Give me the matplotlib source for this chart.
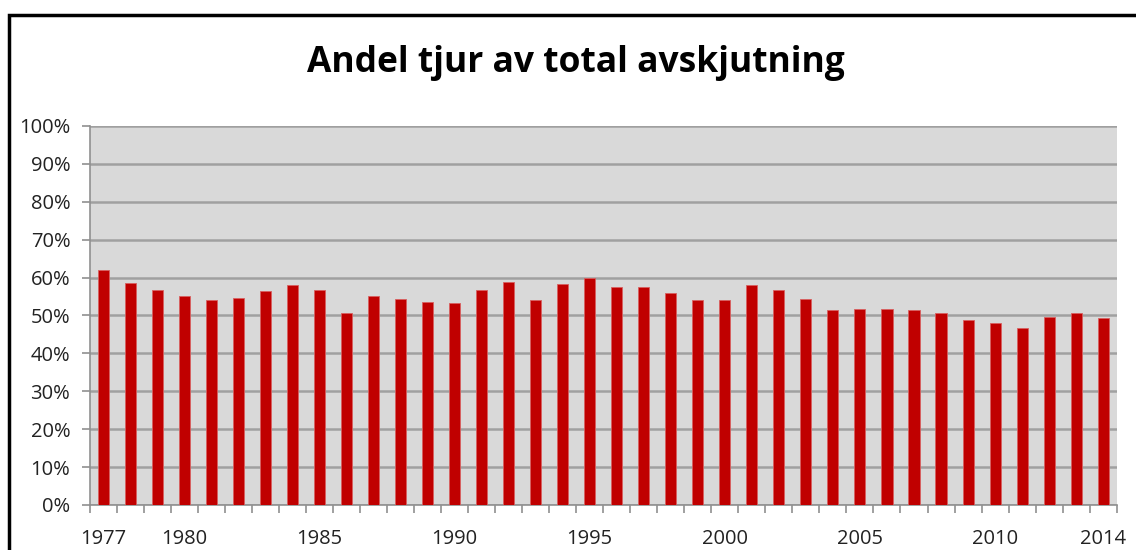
import numpy as np
import matplotlib.pyplot as plt
from matplotlib.patches import Rectangle
from matplotlib.ticker import FixedLocator, PercentFormatter

years = list(range(1977, 2015))
share = [61.9, 58.5, 56.8, 55.0, 54.1, 54.7, 56.5, 58.0, 56.8, 50.7,
         55.0, 54.4, 53.5, 53.2, 56.8, 58.9, 54.1, 58.3, 60.0, 57.4,
         57.4, 55.9, 54.1, 54.1, 58.0, 56.8, 54.3, 51.3, 51.7, 51.7,
         51.3, 50.7, 48.9, 48.0, 46.8, 49.5, 50.7, 49.2]
label_years = [1977, 1980, 1985, 1990, 1995, 2000, 2005, 2010, 2014]

plt.rcParams['font.family'] = ['Open Sans', 'DejaVu Sans']

fig = plt.figure(figsize=(11.36, 5.5), dpi=100)
ax = fig.add_axes([0.079, 0.082, 0.904, 0.689])

# chart frame (cut off at right/bottom like the screenshot)
fig.patches.append(Rectangle((0.008, -0.1), 1.1, 1.073, transform=fig.transFigure,
                             fill=False, edgecolor='black', linewidth=2.5))

x = np.arange(len(years))
ax.set_facecolor('#d9d9d9')
ax.bar(x, share, width=0.41, color='#c00000', edgecolor='#d86060', linewidth=0.6, zorder=3)

ax.set_ylim(0, 100)
ax.set_yticks(np.arange(0, 101, 10))
ax.yaxis.set_major_formatter(PercentFormatter(decimals=0))
ax.grid(axis='y', color='#a0a0a0', linewidth=1.8, zorder=0)

ax.set_xlim(-0.5, len(years) - 0.5)
ax.set_xticks([years.index(y) for y in label_years])
ax.set_xticklabels([str(y) for y in label_years])
ax.tick_params(axis='x', length=0, pad=17)
ax.xaxis.set_minor_locator(FixedLocator(np.arange(-0.5, len(years), 1)))
ax.tick_params(axis='x', which='minor', length=6, color='#909090', width=1.2)
ax.tick_params(axis='y', length=6, color='#909090', width=1.2, pad=8)
ax.tick_params(labelsize=14.5, labelcolor='#222222')

for side in ['top', 'right']:
    ax.spines[side].set_visible(False)
for side in ['left', 'bottom']:
    ax.spines[side].set_color('#909090')
    ax.spines[side].set_linewidth(1.2)

fig.text(0.507, 0.885, 'Andel tjur av total avskjutning', ha='center', va='center',
         fontsize=25.5, fontweight='bold', color='black')

fig.savefig('out.png', dpi=100)
